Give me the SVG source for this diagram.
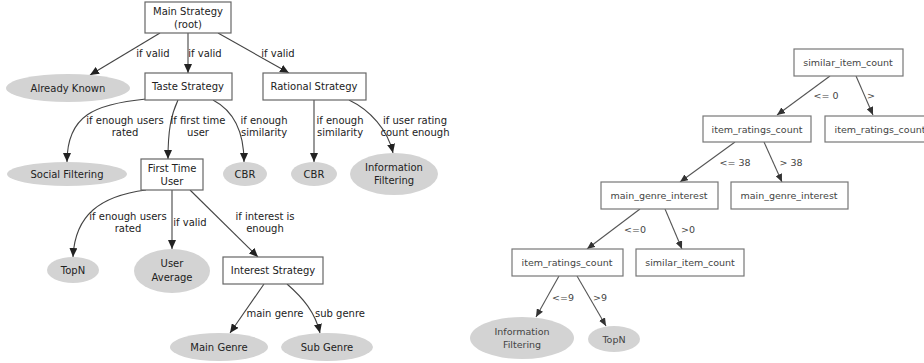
<svg xmlns="http://www.w3.org/2000/svg" width="924" height="363" viewBox="0 0 924 363">
  <defs>
    <marker id="arrow" markerUnits="userSpaceOnUse" markerWidth="10" markerHeight="8" refX="9" refY="4" orient="auto">
      <path d="M0,0 L9,4 L0,8 z" fill="#222"/>
    </marker>
    <marker id="arrowR" markerUnits="userSpaceOnUse" markerWidth="9" markerHeight="7" refX="8" refY="3.5" orient="auto">
      <path d="M0,0 L8,3.5 L0,7 z" fill="#333"/>
    </marker>
    <style>
      text { font-family: "DejaVu Sans", "Liberation Sans", sans-serif; font-size: 10px; fill: #222; text-anchor: middle; }
      .box { fill: #fff; stroke: #666; stroke-width: 1.2; }
      .leaf { fill: #d3d3d3; stroke: none; }
      .edge { fill: none; stroke: #444; stroke-width: 1.1; marker-end: url(#arrow); }
      .right text { font-size: 9.5px; fill: #444; }
      .right .box { stroke: #777; }
      .right .edge { stroke: #555; marker-end: url(#arrowR); }
    </style>
  </defs>

  <!-- strategy tree -->
  <g id="strategy-edges">
    <path class="edge" d="M160,33 L90,75"/>
    <path class="edge" d="M188,33 L188,73"/>
    <path class="edge" d="M218,33 L289,73"/>
    <path class="edge" d="M146,99 C95,104 67,115 67,162"/>
    <path class="edge" d="M178,100 C171,115 168,130 168,159"/>
    <path class="edge" d="M213,100 C232,110 244,130 244,162"/>
    <path class="edge" d="M314,100 L314,162"/>
    <path class="edge" d="M349,100 C370,110 388,130 393,153"/>
    <path class="edge" d="M146,190 C100,196 75,215 73,257"/>
    <path class="edge" d="M172,190 L172,249"/>
    <path class="edge" d="M190,190 L258,257"/>
    <path class="edge" d="M264,284 L230,333"/>
    <path class="edge" d="M287,284 C303,298 315,312 320,333"/>
    <text x="153" y="57">if valid</text>
    <text x="205" y="57">if valid</text>
    <text x="278" y="57">if valid</text>
    <text x="125" y="124">if enough users</text>
    <text x="125" y="136">rated</text>
    <text x="198" y="124">if first time</text>
    <text x="198" y="136">user</text>
    <text x="264" y="124">if enough</text>
    <text x="264" y="136">similarity</text>
    <text x="340" y="124">if enough</text>
    <text x="340" y="136">similarity</text>
    <text x="415" y="124">if user rating</text>
    <text x="415" y="136">count enough</text>
    <text x="128" y="220">if enough users</text>
    <text x="128" y="232">rated</text>
    <text x="190" y="226">if valid</text>
    <text x="265" y="220">if interest is</text>
    <text x="265" y="232">enough</text>
    <text x="275" y="317">main genre</text>
    <text x="340" y="317">sub genre</text>
  </g>

  <g id="main-strategy"><rect class="box" x="145" y="2" width="86" height="31"/><text x="188" y="15">Main Strategy</text><text x="188" y="28">(root)</text></g>
  <g id="already-known"><ellipse class="leaf" cx="68" cy="88" rx="62" ry="14"/><text x="68" y="92">Already Known</text></g>
  <g id="taste-strategy"><rect class="box" x="145" y="73" width="87" height="27"/><text x="188" y="90">Taste Strategy</text></g>
  <g id="rational-strategy"><rect class="box" x="263" y="73" width="103" height="27"/><text x="314" y="90">Rational Strategy</text></g>
  <g id="social-filtering"><ellipse class="leaf" cx="67" cy="174" rx="60" ry="12"/><text x="67" y="178">Social Filtering</text></g>
  <g id="first-time-user"><rect class="box" x="141" y="159" width="62" height="31"/><text x="172" y="172">First Time</text><text x="172" y="185">User</text></g>
  <g id="cbr-taste"><ellipse class="leaf" cx="245" cy="174" rx="22" ry="12"/><text x="245" y="178">CBR</text></g>
  <g id="cbr-rational"><ellipse class="leaf" cx="314" cy="174" rx="23" ry="12"/><text x="314" y="178">CBR</text></g>
  <g id="information-filtering"><ellipse class="leaf" cx="394" cy="174" rx="44" ry="21"/><text x="394" y="171">Information</text><text x="394" y="184">Filtering</text></g>
  <g id="topn"><ellipse class="leaf" cx="73" cy="270" rx="26" ry="13"/><text x="73" y="274">TopN</text></g>
  <g id="user-average"><ellipse class="leaf" cx="172" cy="271" rx="38" ry="22"/><text x="172" y="267">User</text><text x="172" y="281">Average</text></g>
  <g id="interest-strategy"><rect class="box" x="223" y="257" width="100" height="27"/><text x="273" y="274">Interest Strategy</text></g>
  <g id="main-genre"><ellipse class="leaf" cx="219" cy="347" rx="49" ry="14"/><text x="219" y="351">Main Genre</text></g>
  <g id="sub-genre"><ellipse class="leaf" cx="327" cy="347" rx="46" ry="14"/><text x="327" y="351">Sub Genre</text></g>

  <!-- decision tree -->
  <g class="right">
    <g id="decision-edges">
      <path class="edge" d="M830,76 L777,115"/>
      <path class="edge" d="M856,76 L873,115"/>
      <path class="edge" d="M735,142 L680,182"/>
      <path class="edge" d="M764,142 L782,182"/>
      <path class="edge" d="M640,209 L587,249"/>
      <path class="edge" d="M665,209 L682,249"/>
      <path class="edge" d="M559,276 L536,317"/>
      <path class="edge" d="M577,276 L606,326"/>
      <text x="826" y="99">&lt;= 0</text>
      <text x="871" y="99">&gt;</text>
      <text x="735" y="166">&lt;= 38</text>
      <text x="791" y="166">&gt; 38</text>
      <text x="635" y="233">&lt;=0</text>
      <text x="688" y="233">&gt;0</text>
      <text x="563" y="301">&lt;=9</text>
      <text x="600" y="301">&gt;9</text>
    </g>
    <g id="root-similar-item-count"><rect class="box" x="794" y="49" width="109" height="27"/><text x="848" y="66">similar_item_count</text></g>
    <g id="item-ratings-count-a"><rect class="box" x="703" y="116" width="108" height="26"/><text x="757" y="133">item_ratings_count</text></g>
    <g id="item-ratings-count-b"><rect class="box" x="825" y="116" width="110" height="26"/><text x="880" y="133">item_ratings_count</text></g>
    <g id="main-genre-interest-a"><rect class="box" x="601" y="182" width="117" height="27"/><text x="659" y="199">main_genre_interest</text></g>
    <g id="main-genre-interest-b"><rect class="box" x="731" y="182" width="117" height="27"/><text x="789" y="199">main_genre_interest</text></g>
    <g id="item-ratings-count-c"><rect class="box" x="512" y="249" width="111" height="27"/><text x="567" y="266">item_ratings_count</text></g>
    <g id="similar-item-count-b"><rect class="box" x="636" y="249" width="108" height="27"/><text x="690" y="266">similar_item_count</text></g>
    <g id="information-filtering-r"><ellipse class="leaf" cx="522" cy="338" rx="52" ry="21"/><text x="522" y="335">Information</text><text x="522" y="348">Filtering</text></g>
    <g id="topn-r"><ellipse class="leaf" cx="614" cy="339" rx="26" ry="13"/><text x="614" y="343">TopN</text></g>
  </g>
</svg>
